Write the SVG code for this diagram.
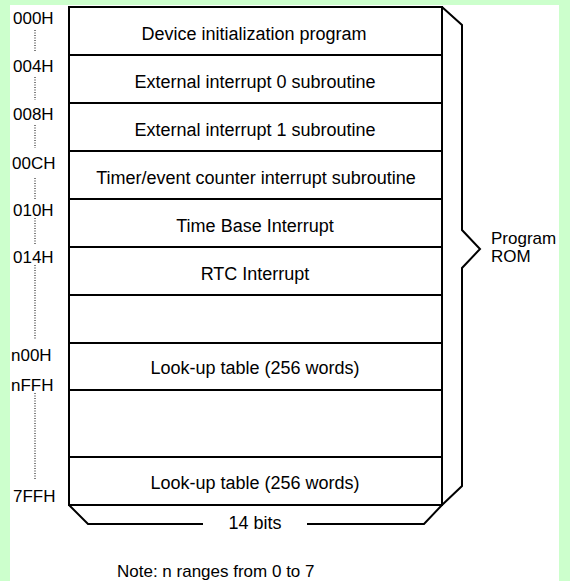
<svg xmlns="http://www.w3.org/2000/svg" width="570" height="581" viewBox="0 0 570 581">
<style>
.t{font-family:"Liberation Sans",Arial,sans-serif;font-size:18px;fill:#000;text-anchor:middle}
.a{font-family:"Liberation Sans",Arial,sans-serif;font-size:17px;fill:#000}
.cell{fill:#fff;stroke:#000;stroke-width:2}
.ln{fill:none;stroke:#000;stroke-width:2}
.dot{stroke:#000;stroke-width:1;stroke-dasharray:1 1.5;fill:none}
</style>
<rect x="0" y="0" width="570" height="581" fill="#ccffcc"/>
<rect x="10" y="5" width="549" height="576" fill="#fff"/>
<g id="cells">
<g id="r1"><rect class="cell" x="69" y="7" width="373" height="48"/><text class="t" x="254" y="40">Device initialization program</text></g>
<g id="r2"><rect class="cell" x="69" y="55" width="373" height="48"/><text class="t" x="255" y="88">External interrupt 0 subroutine</text></g>
<g id="r3"><rect class="cell" x="69" y="103" width="373" height="48"/><text class="t" x="255" y="136">External interrupt 1 subroutine</text></g>
<g id="r4"><rect class="cell" x="69" y="151" width="373" height="48"/><text class="t" x="256" y="184">Timer/event counter interrupt subroutine</text></g>
<g id="r5"><rect class="cell" x="69" y="199" width="373" height="48"/><text class="t" x="255" y="232">Time Base Interrupt</text></g>
<g id="r6"><rect class="cell" x="69" y="247" width="373" height="48"/><text class="t" x="255" y="280">RTC Interrupt</text></g>
<g id="r7"><rect class="cell" x="69" y="295" width="373" height="48"/></g>
<g id="r8"><rect class="cell" x="69" y="343" width="373" height="47"/><text class="t" x="255" y="374">Look-up table (256 words)</text></g>
<g id="r9"><rect class="cell" x="69" y="390" width="373" height="67"/></g>
<g id="r10"><rect class="cell" x="69" y="457" width="373" height="48"/><text class="t" x="255" y="489">Look-up table (256 words)</text></g>
</g>
<g id="connectors">
<path class="ln" d="M442,7 L462,25 L462,230 L480,249 L462,268 L462,486 L442,505"/>
<path class="ln" d="M69,505 L88,524 L203,524 M307,524 L424,524 L442,505"/>
<path class="dot" d="M35,30 V52 M35,77 V100 M35,125 V148 M35,178 V199 M35,218 V245 M35,265 V340 M35,393 V479"/>
</g>
<g id="labels">
<text class="a" x="13" y="24">000H</text>
<text class="a" x="13" y="72">004H</text>
<text class="a" x="13" y="120">008H</text>
<text class="a" x="12" y="169">00CH</text>
<text class="a" x="13" y="216">010H</text>
<text class="a" x="13" y="263">014H</text>
<text class="a" x="11" y="361">n00H</text>
<text class="a" x="11" y="391">nFFH</text>
<text class="a" x="13" y="502">7FFH</text>
<text class="a" x="491" y="244">Program</text>
<text class="a" x="491" y="262">ROM</text>
<text class="t" x="255" y="529">14 bits</text>
<text class="a" x="117" y="577">Note: n ranges from 0 to 7</text>
</g>
</svg>
